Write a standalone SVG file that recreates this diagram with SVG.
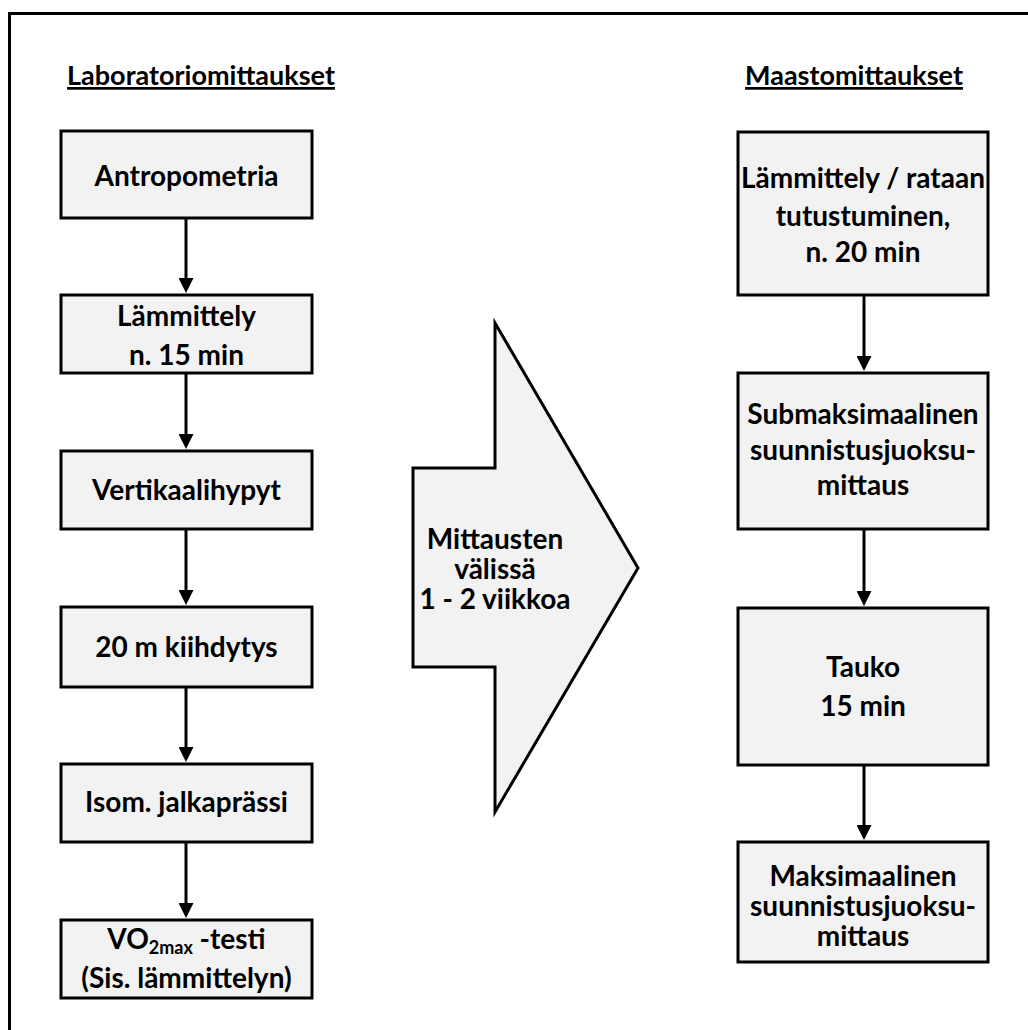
<svg xmlns="http://www.w3.org/2000/svg" width="1028" height="1030" viewBox="0 0 1028 1030">
<style>
.frame{fill:#ffffff;stroke:#000;stroke-width:3}
.box{fill:#f2f2f2;stroke:#000;stroke-width:3}
.t{font-family:Lato,"Liberation Sans",sans-serif;font-weight:bold;font-size:28px;fill:#000;text-anchor:middle}
.h{font-family:Lato,"Liberation Sans",sans-serif;font-weight:bold;font-size:27px;fill:#000;text-anchor:middle;text-decoration:underline}
.c{stroke:#000;stroke-width:3;fill:none;marker-end:url(#ah)}
</style>
<defs>
<marker id="ah" markerUnits="userSpaceOnUse" markerWidth="15" markerHeight="15" viewBox="0 0 15 15" refX="4" refY="7.5" orient="auto">
<path d="M0,0 L15,7.5 L0,15 z" fill="#000"/>
</marker>
</defs>
<rect class="frame" x="9.5" y="13.5" width="1040" height="1040"/>
<g id="heading-lab"><text class="h" x="201" y="85">Laboratoriomittaukset</text></g>
<g id="heading-field"><text class="h" x="854" y="85">Maastomittaukset</text></g>
<g id="connectors">
<line class="c" x1="186" y1="219" x2="186" y2="282"/>
<line class="c" x1="186" y1="374" x2="186" y2="438"/>
<line class="c" x1="186" y1="530" x2="186" y2="594"/>
<line class="c" x1="186" y1="688" x2="186" y2="751"/>
<line class="c" x1="186" y1="843" x2="186" y2="907"/>
<line class="c" x1="864" y1="296" x2="864" y2="360"/>
<line class="c" x1="864" y1="530" x2="864" y2="595"/>
<line class="c" x1="864" y1="766" x2="864" y2="829"/>
</g>
<g id="n-antropometria"><rect class="box" x="61" y="131" width="251" height="87"/><text class="t" x="186.5" y="186">Antropometria</text></g>
<g id="n-lammittely"><rect class="box" x="61" y="295" width="251" height="78"/><text class="t" x="186.5" y="326">Lämmittely</text><text class="t" x="186.5" y="365">n. 15 min</text></g>
<g id="n-vertikaali"><rect class="box" x="61" y="451" width="251" height="78"/><text class="t" x="186.5" y="500">Vertikaalihypyt</text></g>
<g id="n-kiihdytys"><rect class="box" x="61" y="607" width="251" height="80"/><text class="t" x="186.5" y="657">20 m kiihdytys</text></g>
<g id="n-jalkaprassi"><rect class="box" x="61" y="764" width="251" height="78"/><text class="t" x="186.5" y="812">Isom. jalkaprässi</text></g>
<g id="n-vo2max"><rect class="box" x="61" y="920" width="251" height="78"/><text class="t" x="186.5" y="949">VO<tspan font-size="18" dy="5">2max</tspan><tspan dy="-5"> -testi</tspan></text><text class="t" x="186.5" y="988">(Sis. lämmittelyn)</text></g>
<g id="n-valissa"><polygon class="box" points="413,468 495,468 495,323 638,568 495,812 495,667 413,667"/><text class="t" x="495" y="549">Mittausten</text><text class="t" x="495" y="579">välissä</text><text class="t" x="495" y="609">1 - 2 viikkoa</text></g>
<g id="n-lammittely-rata"><rect class="box" x="738" y="132" width="250" height="163"/><text class="t" x="863" y="188">Lämmittely / rataan</text><text class="t" x="863" y="226">tutustuminen,</text><text class="t" x="863" y="262">n. 20 min</text></g>
<g id="n-submaks"><rect class="box" x="738" y="373" width="250" height="156"/><text class="t" x="863" y="424">Submaksimaalinen</text><text class="t" x="863" y="460">suunnistusjuoksu-</text><text class="t" x="863" y="495">mittaus</text></g>
<g id="n-tauko"><rect class="box" x="738" y="608" width="250" height="157"/><text class="t" x="863" y="677">Tauko</text><text class="t" x="863" y="716">15 min</text></g>
<g id="n-maks"><rect class="box" x="738" y="842" width="250" height="120"/><text class="t" x="863" y="886">Maksimaalinen</text><text class="t" x="863" y="916">suunnistusjuoksu-</text><text class="t" x="863" y="946">mittaus</text></g>
</svg>
